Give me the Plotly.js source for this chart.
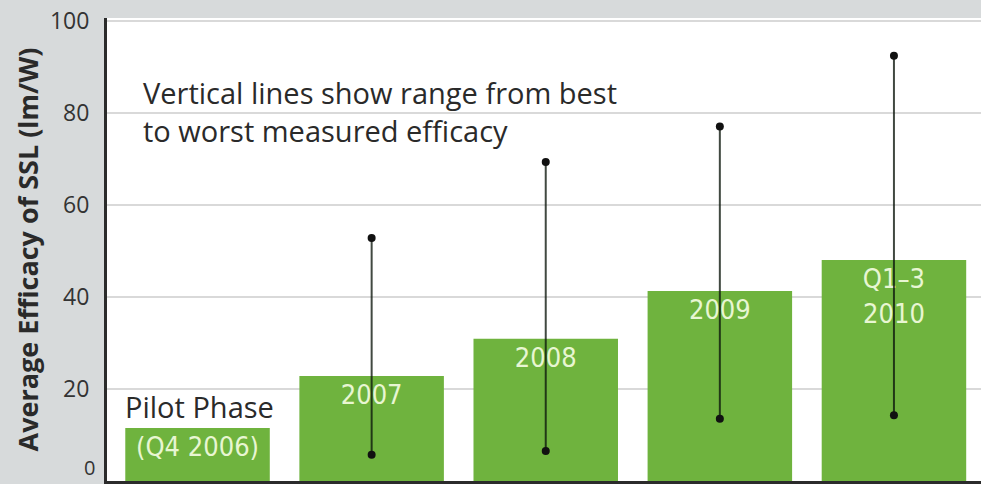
<!DOCTYPE html>
<html><head><meta charset="utf-8">
<script src="https://cdn.plot.ly/plotly-3.0.1.min.js"></script>
<style>html,body{margin:0;padding:0;background:#d7dadb;}#chart{width:981px;height:484px;}</style>
</head><body><div id="chart"></div>
<script>
const categories = ["Pilot", "2007", "2008", "2009", "2010"];
const barLabels = ["(Q4 2006)", "2007", "2008", "2009", "Q1–3<br>2010"];
const averageEfficacy = [11.5, 22.8, 30.9, 41.3, 48.0];
const bestEfficacy = [null, 52.8, 69.3, 77.0, 92.4];
const worstEfficacy = [null, 5.7, 6.5, 13.5, 14.3];
const yTicks = [0, 20, 40, 60, 80, 100];

const lineX = [], lineY = [];
categories.forEach((c, i) => {
  if (bestEfficacy[i] == null) return;
  lineX.push(i, i, null);
  lineY.push(worstEfficacy[i], bestEfficacy[i], null);
});

const labelFont = {family: '"DejaVu Sans Condensed", "Roboto", sans-serif', size: 27, color: '#e8f6d2'};

const traces = [
  {type: 'bar', x: categories.map((c, i) => i), y: averageEfficacy,
   marker: {color: '#6fb33e'}, hoverinfo: 'skip',
   text: barLabels, texttemplate: '%{text}', textposition: 'inside',
   insidetextanchor: 'end', constraintext: 'none', textangle: 0,
   insidetextfont: labelFont},
  {type: 'scatter', mode: 'lines+markers', x: lineX, y: lineY,
   line: {color: 'rgba(12,22,12,0.78)', width: 2}, marker: {color: '#111', size: 8},
   hoverinfo: 'skip', cliponaxis: false}
];

const annotations = [];
annotations.push({
  x: 0, y: averageEfficacy[0], xref: 'x', yref: 'y',
  xanchor: 'left', xshift: -75, yanchor: 'bottom', yshift: 0,
  text: 'Pilot Phase', showarrow: false,
  font: {family: '"Open Sans", sans-serif', size: 29, color: '#2a2a2a'}
});
annotations.push({
  xref: 'paper', yref: 'paper', x: 0.039, y: 0.885, xanchor: 'left', yanchor: 'top',
  align: 'left', showarrow: false,
  text: 'Vertical lines show range from best<br>to worst measured efficacy',
  font: {family: '"Open Sans", sans-serif', size: 29, color: '#2a2a2a'}
});
annotations.push({
  xref: 'paper', yref: 'y', x: 0, y: yTicks[0], xanchor: 'right', yanchor: 'bottom',
  xshift: -10, yshift: -2, text: String(yTicks[0]), showarrow: false,
  font: {family: '"Open Sans", sans-serif', size: 20, color: '#333'}
});

const layout = {
  width: 981, height: 484,
  margin: {l: 107, r: 0, t: 18, b: 3},
  paper_bgcolor: '#d7dadb', plot_bgcolor: '#ffffff',
  showlegend: false, bargap: 0.17,
  xaxis: {range: [-0.52, 4.5], showticklabels: false,
    showline: true, linecolor: '#2b2b2b', linewidth: 3, showgrid: false, zeroline: false, ticks: ''},
  yaxis: {range: [0, 100.6], tickvals: yTicks.slice(1), ticktext: yTicks.slice(1).map(String),
    showline: true, linecolor: '#2b2b2b', linewidth: 3, gridcolor: '#d9d9d9', gridwidth: 1.5,
    zeroline: false, ticks: '', ticklabelstandoff: 10,
    tickfont: {family: '"Open Sans", sans-serif', size: 23, color: '#333'},
    title: {text: '<b>Average Efficacy of SSL (lm/W)</b>', standoff: 4,
      font: {family: '"Open Sans", sans-serif', size: 27, color: '#2a2a2a'}}},
  annotations: annotations
};

Plotly.newPlot('chart', traces, layout, {displayModeBar: false, staticPlot: true});
</script></body></html>
